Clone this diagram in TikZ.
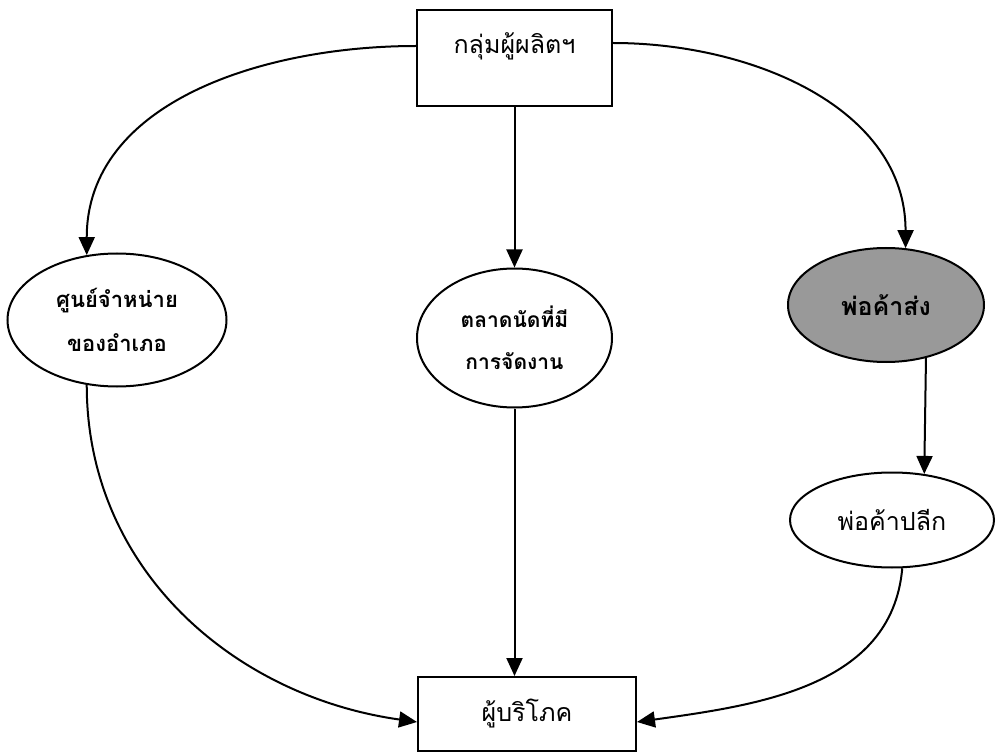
\documentclass[tikz,border=0pt]{standalone}
\usepackage{fontspec}
\newfontfamily\thaifont[Script=Thai]{Loma}
\usetikzlibrary{shapes.geometric,arrows.meta}

\begin{document}
\begin{tikzpicture}[x=1pt,y=-1pt,line width=2pt,>={Triangle[length=18pt,width=16pt]},
    font=\thaifont\fontsize{25}{30}\selectfont]
      \useasboundingbox (0,0) rectangle (997,754);

      \node[rectangle,draw] (1) at (514.5,58) [minimum width=195pt,inner xsep=0pt,inner ysep=0pt,text height=44pt,text depth=52pt] {กลุ่มผู้ผลิตฯ};
      \node[ellipse,draw]   (2) at (117,320)  [minimum width=219pt,minimum height=133pt,inner sep=0pt,align=center,font=\thaifont\bfseries\fontsize{22}{44}\selectfont] {ศูนย์จำหน่าย\\ของอำเภอ};
      \node[ellipse,draw]   (3) at (514.5,338) [minimum width=195pt,minimum height=139pt,inner sep=0pt,align=center,font=\thaifont\bfseries\fontsize{21}{42}\selectfont] {ตลาดนัดที่มี\\การจัดงาน};
      \node[ellipse,draw,fill=black!40] (4) at (886,305) [minimum width=196pt,minimum height=114pt,inner sep=0pt,font=\thaifont\bfseries\fontsize{25}{30}\selectfont] {พ่อค้าส่ง};
      \node[ellipse,draw]   (5) at (892,520)  [minimum width=204pt,minimum height=95pt,inner sep=0pt] {พ่อค้าปลีก};
      \node[rectangle,draw] (6) at (527,714)  [minimum width=218pt,minimum height=74pt,inner sep=0pt] {ผู้บริโภค};

      \path[->] ([yshift=12pt]1.west) edge[out=180,in=90] (2.115);
      \path[->] (1) edge (3);
      \path[->] ([yshift=15pt]1.east) edge[out=0,in=90] (4.71);
      \path[->] (4.-53) edge (5.55);
      \path[->] (2.245) edge[out=-90,in=172] ([yshift=-8pt]6.west);
      \path[->] (3) edge (3.south |- 6.north);
      \path[->] (5.-78) edge[out=-95,in=8] ([yshift=-8pt]6.east);
    \end{tikzpicture}
\end{document}
